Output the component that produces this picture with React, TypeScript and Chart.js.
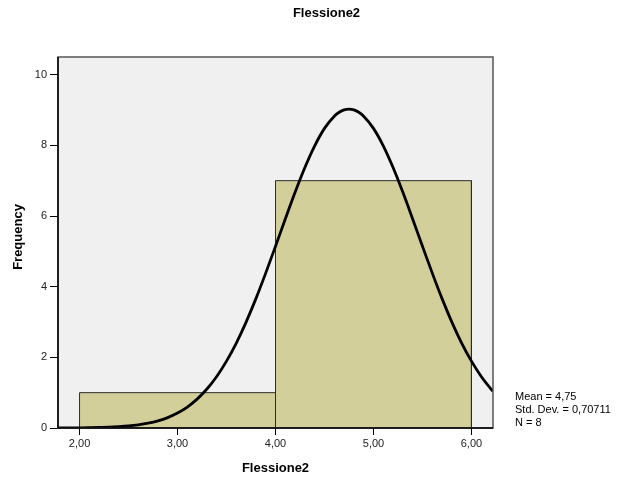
import React, { useEffect, useRef } from "react";
import { Chart, registerables } from "chart.js";

Chart.register(...registerables);

const chartTitle = "Flessione2";
const xTitle = "Flessione2";
const yTitle = "Frequency";
const binEdges = [2, 4, 6];
const binCounts = [1, 7];
const xTicks = [2, 3, 4, 5, 6];
const yTicks = [0, 2, 4, 6, 8, 10];
const statsLines = ["Mean = 4,75", "Std. Dev. = 0,70711", "N = 8"];
const curveX = [1.78, 1.8, 1.9, 2.0, 2.1, 2.2, 2.3, 2.4, 2.5, 2.6, 2.7, 2.8, 2.9, 3.0, 3.1, 3.2, 3.3, 3.4, 3.5, 3.6, 3.7, 3.8, 3.9, 4.0, 4.1, 4.2, 4.3, 4.4, 4.5, 4.6, 4.65, 4.7, 4.75, 4.8, 4.85, 4.9, 5.0, 5.1, 5.2, 5.3, 5.4, 5.5, 5.6, 5.7, 5.8, 5.9, 6.0, 6.1, 6.2, 6.22];
const curveY = [0.001, 0.002, 0.003, 0.005, 0.008, 0.014, 0.022, 0.036, 0.057, 0.089, 0.135, 0.201, 0.295, 0.422, 0.593, 0.817, 1.103, 1.459, 1.892, 2.405, 2.998, 3.661, 4.383, 5.143, 5.916, 6.671, 7.372, 7.986, 8.48, 8.826, 8.937, 9.005, 9.027, 9.005, 8.937, 8.826, 8.48, 7.986, 7.372, 6.671, 5.916, 5.143, 4.383, 3.661, 2.998, 2.405, 1.892, 1.459, 1.103, 1.04];

const FONT = "'Liberation Sans', Arial, sans-serif";

export default function App() {
  const ref = useRef<HTMLCanvasElement | null>(null);

  useEffect(() => {
    const canvas = ref.current;
    if (!canvas) return;

    const barPts: { x: number; y: number }[] = [];
    barPts.push({ x: binEdges[0], y: 0 });
    for (let i = 0; i < binCounts.length; i++) {
      barPts.push({ x: binEdges[i], y: binCounts[i] });
      barPts.push({ x: binEdges[i + 1], y: binCounts[i] });
      barPts.push({ x: binEdges[i + 1], y: 0 });
    }
    const curvePts = curveX.map((x, i) => ({ x, y: curveY[i] }));

    const decor = {
      id: "decor",
      beforeDatasetsDraw(chart: any) {
        const { ctx, chartArea: a } = chart;
        ctx.save();
        ctx.fillStyle = "#f0f0f0";
        ctx.fillRect(a.left, a.top, a.right - a.left, a.bottom - a.top);
        ctx.restore();
      },
      afterDatasetsDraw(chart: any) {
        const { ctx, chartArea: a } = chart;
        ctx.save();
        ctx.strokeStyle = "#555555";
        ctx.lineWidth = 1.5;
        ctx.strokeRect(a.left, a.top, a.right - a.left, a.bottom - a.top);
        ctx.strokeStyle = "#000000";
        ctx.lineWidth = 1.5;
        ctx.beginPath();
        ctx.moveTo(a.left, a.bottom);
        ctx.lineTo(a.right, a.bottom);
        ctx.moveTo(a.left, a.top);
        ctx.lineTo(a.left, a.bottom);
        ctx.stroke();
        ctx.fillStyle = "#000000";
        ctx.font = `bold 13px ${FONT}`;
        ctx.textAlign = "center";
        ctx.textBaseline = "middle";
        ctx.fillText(chartTitle, 326.5, 13);
        ctx.fillText(xTitle, (a.left + a.right) / 2, 468);
        ctx.save();
        ctx.translate(18, 237);
        ctx.rotate(-Math.PI / 2);
        ctx.fillText(yTitle, 0, 0);
        ctx.restore();
        ctx.font = `11px ${FONT}`;
        ctx.textAlign = "left";
        statsLines.forEach((s, i) => ctx.fillText(s, 515, 397 + i * 13));
        ctx.restore();
      },
    };

    const chart = new Chart(canvas, {
      type: "line",
      data: {
        datasets: [
          {
            label: "curve",
            data: curvePts,
            borderColor: "#000000",
            borderWidth: 2.8,
            pointRadius: 0,
            cubicInterpolationMode: "monotone",
            fill: false,
            order: 0,
          },
          {
            label: "bars",
            data: barPts,
            borderColor: "#2b2b2b",
            backgroundColor: "#d3cf9b",
            borderWidth: 1,
            pointRadius: 0,
            tension: 0,
            fill: "origin",
            order: 1,
          },
        ],
      },
      options: {
        animation: false,
        responsive: false,
        devicePixelRatio: 1,
        layout: { padding: { top: 57, right: 131, left: 0, bottom: 0 } },
        plugins: { legend: { display: false }, tooltip: { enabled: false }, title: { display: false } },
        scales: {
          x: {
            type: "linear",
            min: 1.78,
            max: 6.22,
            afterFit: (s: any) => { s.height = 59; },
            afterBuildTicks: (s: any) => { s.ticks = xTicks.map((v) => ({ value: v })); },
            ticks: {
              includeBounds: false,
              autoSkip: false,
              maxRotation: 0,
              color: "#222222",
              font: { family: FONT, size: 11 },
              padding: 2,
              callback: (v: any) => Number(v).toFixed(2).replace(".", ","),
            },
            grid: { drawOnChartArea: false, drawTicks: true, tickLength: 7, tickColor: "#000000", tickWidth: 1 },
            border: { display: false },
          },
          y: {
            type: "linear",
            min: 0,
            max: 10.5,
            afterFit: (s: any) => { s.width = 58; },
            afterBuildTicks: (s: any) => { s.ticks = yTicks.map((v) => ({ value: v })); },
            ticks: {
              includeBounds: false,
              autoSkip: false,
              color: "#222222",
              font: { family: FONT, size: 11 },
              padding: 3,
            },
            grid: { drawOnChartArea: false, drawTicks: true, tickLength: 8, tickColor: "#000000", tickWidth: 1 },
            border: { display: false },
          },
        },
      },
      plugins: [decor],
    });
    return () => chart.destroy();
  }, []);

  return (
    <div style={{ position: "fixed", left: 0, top: 0, width: 624, height: 487, background: "#ffffff" }}>
      <canvas ref={ref} width={624} height={487} style={{ width: 624, height: 487 }} />
    </div>
  );
}
